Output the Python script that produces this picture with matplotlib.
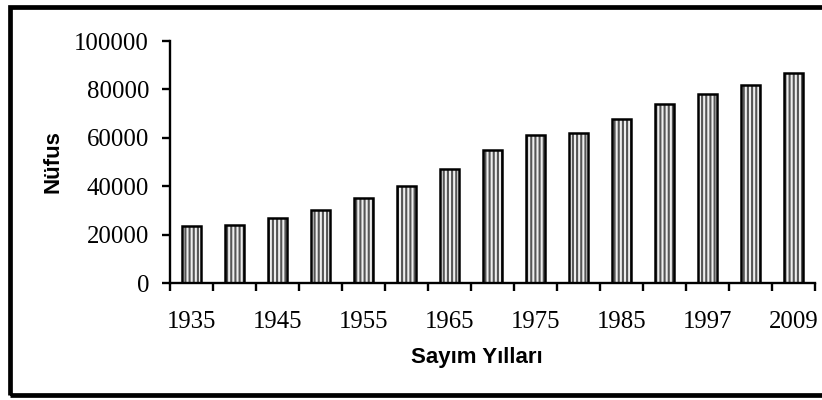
import numpy as np
import matplotlib
matplotlib.use("Agg")
import matplotlib.pyplot as plt
from matplotlib.patches import Rectangle

# Census years and population values
years = ['1935', '1940', '1945', '1950', '1955', '1960', '1965', '1970',
         '1975', '1980', '1985', '1990', '1997', '2000', '2009']
population = [23700, 24100, 26700, 30200, 35100, 40200, 47100, 55000,
              61200, 62100, 67600, 73800, 78200, 81700, 86800]
y_ticks = [0, 20000, 40000, 60000, 80000, 100000]

plt.rcParams['hatch.linewidth'] = 1.5

fig = plt.figure(figsize=(8.22, 4.0), dpi=100)
ax = fig.add_axes([170 / 822, 117 / 400, 645 / 822, 242 / 400])

x = np.arange(len(years))
# hatched fill first, then the black outline on top
ax.bar(x, population, width=0.45, color='#eeeeee', edgecolor='#555555',
       hatch='||||', linewidth=0)
ax.bar(x, population, width=0.45, fill=False, edgecolor='black', linewidth=1.8)

ax.set_xlim(-0.5, len(years) - 0.5)
ax.set_ylim(0, 100000)

for side in ['top', 'right']:
    ax.spines[side].set_visible(False)
for side in ['left', 'bottom']:
    ax.spines[side].set_linewidth(1.7)

serif = 'Liberation Serif'
ax.set_yticks(y_ticks)
ax.set_yticklabels([str(v) for v in y_ticks], fontfamily=serif, fontsize=17.8)
ax.tick_params(axis='y', which='major', length=6, width=1.7, pad=9)

# ticks between categories, labels on every other year
ax.set_xticks(np.arange(len(years) + 1) - 0.5)
ax.set_xticklabels([])
ax.tick_params(axis='x', which='major', length=5.5, width=1.7, direction='out')
ax.set_xticks(x[::2], minor=True)
ax.set_xticklabels(years[::2], minor=True, fontfamily=serif, fontsize=17.8)
ax.tick_params(axis='x', which='minor', length=0, pad=20)

fig.text(477 / 822, 1 - 357 / 400, 'Sayım Yılları', ha='center', va='center',
         fontfamily='Liberation Sans', fontweight='bold', fontsize=16)
fig.text(53 / 822, 1 - 162 / 400, 'Nüfus', ha='center', va='center', rotation=90,
         fontfamily='Liberation Sans', fontweight='bold', fontsize=16)

# outer frame, cut off on the right like the original
fig.patches.append(Rectangle((9.5 / 822, 5 / 400), 830 / 822, 388.5 / 400,
                             transform=fig.transFigure, fill=False,
                             edgecolor='black', linewidth=3.4, clip_on=False))

fig.savefig('out.png', dpi=100)
